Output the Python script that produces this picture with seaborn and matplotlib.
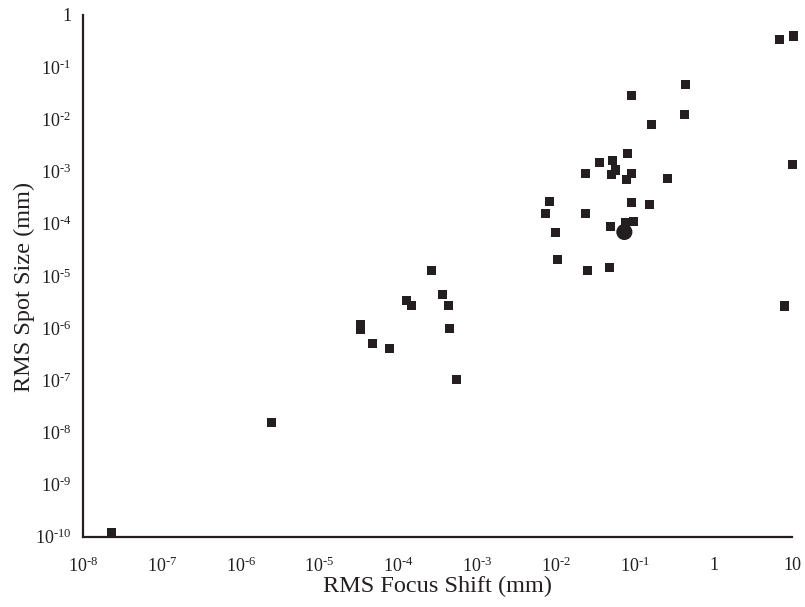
import matplotlib
matplotlib.use("Agg")
import matplotlib.pyplot as plt
import seaborn as sns
import pandas as pd
import numpy as np

# Data
focus_shift_sq = [2.3e-8, 2.48e-6, 3.3e-5, 3.3e-5, 4.7e-5, 7.7e-5, 1.26e-4, 1.47e-4, 2.63e-4,
                  3.62e-4, 4.32e-4, 4.45e-4, 5.46e-4,
                  7.35e-3, 8.26e-3, 9.84e-3, 1.04e-2, 2.37e-2, 2.37e-2, 2.51e-2,
                  3.56e-2, 4.77e-2, 4.91e-2, 5.05e-2, 5.2e-2, 5.68e-2, 7.6e-2, 7.83e-2,
                  8.07e-2, 9.06e-2, 9.06e-2, 9.17e-2, 9.62e-2, 0.153, 0.163, 0.259,
                  0.427, 0.438, 6.84, 7.92, 10.0, 10.3]
spot_size_sq = [1.2e-10, 1.56e-8, 1.16e-6, 9.4e-7, 5.1e-7, 4.08e-7, 3.4e-6, 2.72e-6, 1.28e-5,
                4.43e-6, 2.72e-6, 9.9e-7, 1.04e-7,
                1.58e-4, 2.69e-4, 6.84e-5, 2.07e-5, 9.25e-4, 1.58e-4, 1.28e-5,
                1.5e-3, 1.46e-5, 8.9e-5, 8.85e-4, 1.64e-3, 1.07e-3, 1.06e-4, 7.1e-4,
                2.23e-3, 2.89e-2, 2.57e-4, 9.25e-4, 1.11e-4, 2.36e-4, 8.0e-3, 7.4e-4,
                1.25e-2, 4.7e-2, 0.342, 2.64e-6, 1.37e-3, 0.396]
focus_shift_circle = [0.074]
spot_size_circle = [6.93e-5]

x_ticks = [1e-8, 1e-7, 1e-6, 1e-5, 1e-4, 1e-3, 1e-2, 1e-1, 1, 10]
x_tick_labels = [r"$\mathrm{10^{\text{-}8}}$", r"$\mathrm{10^{\text{-}7}}$", r"$\mathrm{10^{\text{-}6}}$",
                 r"$\mathrm{10^{\text{-}5}}$", r"$\mathrm{10^{\text{-}4}}$", r"$\mathrm{10^{\text{-}3}}$",
                 r"$\mathrm{10^{\text{-}2}}$", r"$\mathrm{10^{\text{-}1}}$", "1", "10"]
y_ticks = [1e-10, 1e-9, 1e-8, 1e-7, 1e-6, 1e-5, 1e-4, 1e-3, 1e-2, 1e-1, 1]
y_tick_labels = [r"$\mathrm{10^{\text{-}10}}$", r"$\mathrm{10^{\text{-}9}}$", r"$\mathrm{10^{\text{-}8}}$",
                 r"$\mathrm{10^{\text{-}7}}$", r"$\mathrm{10^{\text{-}6}}$", r"$\mathrm{10^{\text{-}5}}$",
                 r"$\mathrm{10^{\text{-}4}}$", r"$\mathrm{10^{\text{-}3}}$", r"$\mathrm{10^{\text{-}2}}$",
                 r"$\mathrm{10^{\text{-}1}}$", "1"]

sns.set_style("white")
plt.rcParams["font.family"] = ["Liberation Serif", "DejaVu Serif"]
plt.rcParams["mathtext.fontset"] = "custom"
plt.rcParams["mathtext.rm"] = "Liberation Serif"
plt.rcParams["mathtext.it"] = "Liberation Serif:italic"
plt.rcParams["mathtext.bf"] = "Liberation Serif:bold"

ink = "#231f20"

df_sq = pd.DataFrame({"x": focus_shift_sq, "y": spot_size_sq})
df_c = pd.DataFrame({"x": focus_shift_circle, "y": spot_size_circle})

fig = plt.figure(figsize=(8.05, 6.07), dpi=100)
ax = fig.add_axes([0.1031, 0.1158, 0.9842 - 0.1031, 0.9753 - 0.1158])

sns.scatterplot(data=df_sq, x="x", y="y", marker="s", s=44, color=ink,
                edgecolor="none", linewidth=0, ax=ax, clip_on=False, zorder=3)
sns.scatterplot(data=df_c, x="x", y="y", marker="o", s=135, color=ink,
                edgecolor="none", linewidth=0, ax=ax, clip_on=False, zorder=4)

ax.set_xscale("log")
ax.set_yscale("log")
ax.set_xlim(1e-8, 10)
ax.set_ylim(1e-10, 1)
ax.set_xticks(x_ticks)
ax.set_xticklabels(x_tick_labels)
ax.set_yticks(y_ticks)
ax.set_yticklabels(y_tick_labels)
ax.minorticks_off()

for side in ["top", "right"]:
    ax.spines[side].set_visible(False)
for side in ["left", "bottom"]:
    ax.spines[side].set_color(ink)
    ax.spines[side].set_linewidth(1.6)

ax.tick_params(axis="both", which="major", direction="out", length=3.5, width=1.4,
               color=ink, labelcolor=ink, labelsize=13)
ax.tick_params(axis="x", pad=11)
ax.tick_params(axis="y", pad=5)

ax.set_xlabel("RMS Focus Shift (mm)", fontsize=17.5, color=ink, labelpad=0)
ax.set_ylabel("RMS Spot Size (mm)", fontsize=17.5, color=ink, labelpad=2)
ax.yaxis.set_label_coords(-0.067, 0.478)

fig.savefig("out.png", dpi=100)
